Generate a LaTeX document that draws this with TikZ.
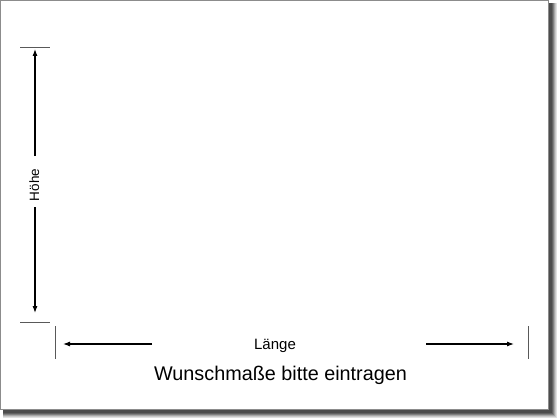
\documentclass[tikz,border=0pt]{standalone}
\usepackage{fontspec}
\setmainfont{Liberation Sans}
\usetikzlibrary{arrows.meta}
\tikzset{
	dim/.style={line width=1.1pt, -{Latex[length=7pt,width=5pt]}},
	tick/.style={draw=black!65, line width=0.9pt},
	label/.style={anchor=base, inner sep=0pt},
}
\begin{document}
\begin{tikzpicture}[x=1pt, y=-1pt]
	\useasboundingbox (0,0) rectangle (560,420);

	% shadow and sheet
	\foreach \d/\c in {5/12, 4/22, 3/35, 2/50, 1/62, 0/70}
		\fill[black!\c] (3, 3) rectangle (552+\d, 413+\d);
	\filldraw[fill=white, draw=black!45, line width=1pt] (0.5,0.5) rectangle (548,409);

	\coordinate (ht1)  at (20,47);
	\coordinate (ht2)  at (50,47);
	\coordinate (hb1)  at (20,322);
	\coordinate (hb2)  at (50,322);
	\coordinate (htip1) at (35,49);
	\coordinate (htip2) at (35,313);
	\coordinate (hs1)  at (35,156);
	\coordinate (hs2)  at (35,207);

	\coordinate (lt1)  at (55,326);
	\coordinate (lt2)  at (55,359);
	\coordinate (rt1)  at (528,326);
	\coordinate (rt2)  at (528,359);
	\coordinate (ltip) at (63,344);
	\coordinate (rtip) at (514,344);
	\coordinate (ls)   at (152,344);
	\coordinate (rs)   at (426,344);

	\draw[tick] (ht1) -- (ht2);
	\draw[tick] (hb1) -- (hb2);
	\draw[tick] (lt1) -- (lt2);
	\draw[tick] (rt1) -- (rt2);

	\draw[dim] (hs1) -- (htip1);
	\draw[dim] (hs2) -- (htip2);
	\draw[dim] (ls) -- (ltip);
	\draw[dim] (rs) -- (rtip);

	\node[label, rotate=90, font=\fontsize{13.5}{16}\selectfont] (hoehe) at (39,185) {Höhe};
	\node[label, font=\fontsize{15}{18}\selectfont] (laenge) at (275,349) {Länge};
	\node[label, font=\fontsize{19.8}{23}\selectfont] (title) at (280.5,380) {Wunschmaße bitte eintragen};
\end{tikzpicture}
\end{document}
